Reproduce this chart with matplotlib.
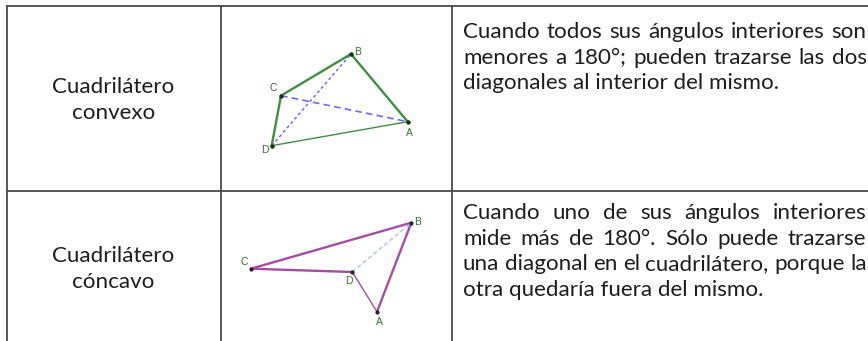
import matplotlib
matplotlib.use("Agg")
import matplotlib.pyplot as plt

# ---- data ----
row_titles = [["Cuadrilátero", "convexo"], ["Cuadrilátero", "cóncavo"]]
row_texts = [
    ["Cuando todos sus ángulos interiores son",
     "menores a 180°; pueden trazarse las dos",
     "diagonales al interior del mismo."],
    ["Cuando uno de sus ángulos interiores",
     "mide más de 180°. Sólo puede trazarse",
     "una diagonal en el cuadrilátero, porque la",
     "otra quedaría fuera del mismo."],
]
vertex_names = ["A", "B", "C", "D"]
convex_x = [407.7, 351.0, 281.0, 271.7]
convex_y = [121.7, 54.0, 95.7, 145.7]
concave_x = [377.0, 411.3, 251.0, 352.3]
concave_y = [311.7, 222.7, 268.7, 272.0]
convex_label_dx = [2, 7, -8, -7]
convex_label_dy = [11, -2, -8, 4]
concave_label_dx = [2, 6, -7, -3]
concave_label_dy = [10, -1, -7, 9]

FONT = "Lato"
TXT = "#1e1e1e"
W, H = 868, 341
fig = plt.figure(figsize=(W / 100, H / 100), dpi=100)
ax = fig.add_axes([0, 0, 1, 1])
ax.set_xlim(0, W)
ax.set_ylim(H, 0)
ax.axis("off")

# grid
gc = "#4a4a4a"
lw = 1.3
ax.plot([7, W], [6, 6], color=gc, lw=lw)
ax.plot([7, W], [190.5, 190.5], color=gc, lw=lw)
for x in [7, 220.5, 452]:
    ax.plot([x, x], [6, H], color=gc, lw=lw)

fig.canvas.draw()
renderer = fig.canvas.get_renderer()

def width(s, size):
    t = ax.text(0, 0, s, fontsize=size, family=FONT)
    bb = t.get_window_extent(renderer)
    t.remove()
    return bb.width

x0, x1 = 463.0, 866.5
colw = x1 - x0
fs = 10 * colw / width(row_texts[1][2], 10)

def justified(lines, ytop, step):
    for i, line in enumerate(lines):
        y = ytop + i * step
        words = line.split(" ")
        if i == len(lines) - 1:
            ax.text(x0, y, line, fontsize=fs, family=FONT, color=TXT, va="center", ha="left")
            continue
        ws = [width(w, fs) for w in words]
        gap = (colw - sum(ws)) / (len(words) - 1)
        x = x0
        for w, ww in zip(words, ws):
            ax.text(x, y, w, fontsize=fs, family=FONT, color=TXT, va="center", ha="left")
            x += ww + gap

justified(row_texts[0], 32, 25.7)
justified(row_texts[1], 213, 25.7)

for (l1, l2), yc in zip(row_titles, [100, 269.5]):
    ax.text(113.5, yc - 13, l1, fontsize=fs, family=FONT, color=TXT, ha="center", va="center")
    ax.text(113.5, yc + 13, l2, fontsize=fs, family=FONT, color=TXT, ha="center", va="center")

# convex quadrilateral
green = "#3f8f3f"
widths_c = [1.7, 1.7, 1.7, 1.0]  # AB, BC, CD, DA
for k in range(4):
    i, j = k, (k + 1) % 4
    ax.plot([convex_x[i], convex_x[j]], [convex_y[i], convex_y[j]], color=green,
            lw=widths_c[k], solid_capstyle="round")
ax.plot([convex_x[2], convex_x[0]], [convex_y[2], convex_y[0]], color="#6b6bff", lw=1.2,
        ls=(0, (4, 2.5)))
ax.plot([convex_x[3], convex_x[1]], [convex_y[3], convex_y[1]], color="#6b6bff", lw=1.1,
        ls=(0, (2, 1.8)))
ax.scatter(convex_x, convex_y, s=5, color="#1a331a", zorder=5)
for n, x, y, dx, dy in zip(vertex_names, convex_x, convex_y, convex_label_dx, convex_label_dy):
    ax.text(x + dx, y + dy, n, fontsize=7.5, family="Liberation Sans", color="#2a7a2a",
            ha="center", va="center")

# concave quadrilateral
purple = "#a64ca6"
widths_k = [1.7, 1.7, 1.7, 1.0]  # AB, BC, CD, DA
for k in range(4):
    i, j = k, (k + 1) % 4
    ax.plot([concave_x[i], concave_x[j]], [concave_y[i], concave_y[j]], color=purple,
            lw=widths_k[k], solid_capstyle="round")
ax.plot([concave_x[3], concave_x[1]], [concave_y[3], concave_y[1]], color="#b3b8ff", lw=1.0,
        ls=(0, (3, 2)))
ax.scatter(concave_x, concave_y, s=4, color="#222222", zorder=5)
for n, x, y, dx, dy in zip(vertex_names, concave_x, concave_y, concave_label_dx, concave_label_dy):
    ax.text(x + dx, y + dy, n, fontsize=7.5, family="Liberation Sans", color="#2a7a2a",
            ha="center", va="center")

fig.savefig("out.png", dpi=100, facecolor="white")
